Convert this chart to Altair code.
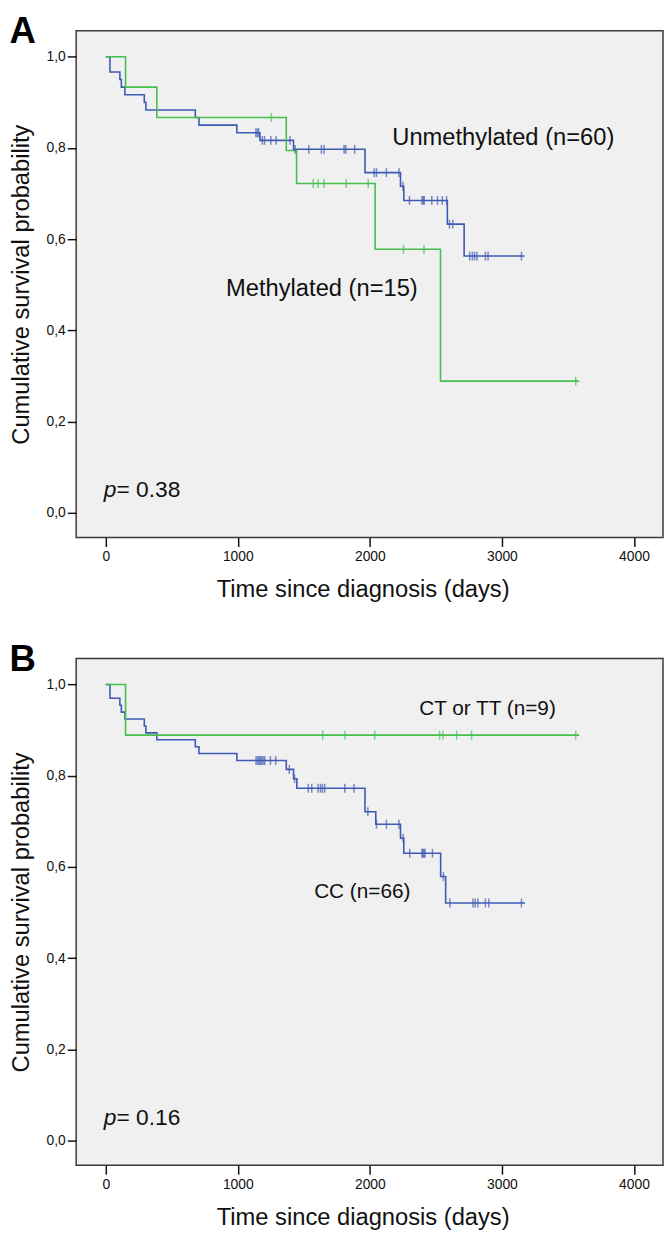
import altair as alt
import pandas as pd

FONT = "Liberation Sans, Arial, sans-serif"
BLUE = "#3E5AB4"
GREEN = "#45C04F"

# ---------------- Panel A: MGMT methylation ----------------
a_groups = ["Unmethylated (n=60)", "Methylated (n=15)"]
a_unmeth_event_t = [32, 107, 118, 145, 292, 304, 678, 706, 993, 1168, 1422, 1963, 2232, 2257, 2587, 2714]
a_unmeth_event_s = [0.9667, 0.95, 0.9333, 0.9167, 0.90, 0.8833, 0.8667, 0.85, 0.8333, 0.8167,
                    0.797, 0.746, 0.716, 0.685, 0.633, 0.563]
a_unmeth_censor = [1137, 1148, 1158, 1185, 1202, 1250, 1290, 1395, 1434, 1538, 1633, 1653, 1805,
                   1818, 1885, 2033, 2050, 2125, 2220, 2250, 2300, 2394, 2404, 2412, 2469, 2512,
                   2549, 2581, 2603, 2628, 2756, 2776, 2793, 2811, 2875, 2895, 3148]
a_unmeth_end = 3172

a_meth_event_t = [150, 387, 1367, 1445, 2040, 2535]
a_meth_event_s = [0.9333, 0.8667, 0.7944, 0.7222, 0.5778, 0.2889]
a_meth_censor = [1254, 1571, 1608, 1653, 1821, 1988, 2255, 2410, 3559]
a_meth_end = 3585

a_label_text = ["Unmethylated (n=60)", "Methylated (n=15)"]
a_label_t = [2170, 911]
a_label_s = [0.806, 0.475]
a_pvalue = "= 0.38"

# ---------------- Panel B: genotype ----------------
b_groups = ["CC (n=66)", "CT or TT (n=9)"]
b_cc_event_t = [32, 107, 118, 145, 292, 304, 387, 678, 706, 993, 1367, 1422, 1447, 1963, 2045,
                2232, 2257, 2536, 2574]
b_cc_event_s = [0.9697, 0.9545, 0.9394, 0.9242, 0.9091, 0.8939, 0.8788, 0.8636, 0.8485, 0.8333,
                0.8139, 0.7935, 0.7725, 0.7210, 0.6935, 0.6630, 0.6300, 0.5790, 0.5210]
b_cc_censor = [1138, 1150, 1160, 1170, 1180, 1192, 1204, 1247, 1287, 1390, 1430, 1534, 1560, 1608,
               1626, 1641, 1658, 1810, 1880, 1985, 2050, 2125, 2220, 2252, 2302, 2394, 2402, 2410,
               2418, 2474, 2557, 2606, 2781, 2798, 2818, 2875, 2901, 3148]
b_cc_end = 3175

b_ct_event_t = [150]
b_ct_event_s = [0.8889]
b_ct_censor = [1643, 1811, 2037, 2528, 2554, 2657, 2770, 3559]
b_ct_end = 3585

b_label_text = ["CT or TT (n=9)", "CC (n=66)"]
b_label_t = [2374, 1578]
b_label_s = [0.933, 0.532]
b_pvalue = "= 0.16"

X_TICKS = [0, 1000, 2000, 3000, 4000]
Y_TICKS = [0, 0.2, 0.4, 0.6, 0.8, 1.0]


def step_rows(group, event_t, event_s, end_t):
    xs = [0] + list(event_t) + [end_t]
    ys = [1.0] + list(event_s) + [event_s[-1]]
    return [{"group": group, "t": x, "s": y} for x, y in zip(xs, ys)]


def censor_rows(group, event_t, event_s, censor_t):
    rows = []
    for c in censor_t:
        level = 1.0
        for t, v in zip(event_t, event_s):
            if t <= c:
                level = v
        rows.append({"group": group, "t": c, "s": level})
    return rows


def panel(letter, curves, labels, label_size, pval):
    line_df = pd.DataFrame(sum([step_rows(g, et, es, end) for g, et, es, end, _ in curves], []))
    cens_df = pd.DataFrame(sum([censor_rows(g, et, es, ct) for g, et, es, _, ct in curves], []))
    groups = [c[0] for c in curves]
    colors = [BLUE, GREEN]

    x = alt.X("t:Q",
              scale=alt.Scale(domain=[-224, 4220], nice=False, zero=False),
              axis=alt.Axis(values=X_TICKS, format="d", title="Time since diagnosis (days)",
                            titleX=290, titleY=60, titleBaseline="alphabetic"))
    y = alt.Y("s:Q",
              scale=alt.Scale(domain=[-0.054, 1.057], nice=False, zero=False),
              axis=alt.Axis(values=Y_TICKS,
                            labelExpr="replace(format(datum.value, '.1f'), '.', ',')",
                            title="Cumulative survival probability",
                            titleAngle=270, titleX=-48.5, titleY=256.5,
                            titleBaseline="alphabetic", titleAlign="center"))
    color = alt.Color("group:N", scale=alt.Scale(domain=groups, range=colors), legend=None)

    lines = alt.Chart(line_df).mark_line(interpolate="step-after", strokeWidth=1.6).encode(
        x=x, y=y, color=color, detail="group:N")
    ticks = alt.Chart(cens_df).mark_tick(orient="vertical", size=9, thickness=1.5).encode(
        x="t:Q", y="s:Q", color=color)

    lab_df = pd.DataFrame({"txt": labels[0], "t": labels[1], "s": labels[2]})
    texts = alt.Chart(lab_df).mark_text(align="left", baseline="alphabetic", fontSize=label_size,
                                        font=FONT, color="#111").encode(
        x="t:Q", y="s:Q", text="txt:N")

    p_df = pd.DataFrame({"t": [-16], "s": [0.034]})
    p_it = alt.Chart(p_df).mark_text(align="left", baseline="alphabetic", fontSize=23, font=FONT,
                                     fontStyle="italic", color="#111", text="p").encode(
        x="t:Q", y="s:Q")
    p_rest = alt.Chart(p_df).mark_text(align="left", baseline="alphabetic", fontSize=23, font=FONT,
                                       color="#111", dx=13, text=pval).encode(x="t:Q", y="s:Q")

    let_df = pd.DataFrame({"k": [0]})
    letter_mark = alt.Chart(let_df).mark_text(align="left", baseline="top", fontSize=37,
                                              fontWeight="bold", font=FONT, color="#000",
                                              text=letter).encode(
        x=alt.value(-67.5), y=alt.value(-16.5))

    return alt.layer(lines, ticks, texts, p_it, p_rest, letter_mark).properties(width=594, height=513)


chart_a = panel("A",
                [(a_groups[0], a_unmeth_event_t, a_unmeth_event_s, a_unmeth_end, a_unmeth_censor),
                 (a_groups[1], a_meth_event_t, a_meth_event_s, a_meth_end, a_meth_censor)],
                (a_label_text, a_label_t, a_label_s), 24, a_pvalue)
chart_b = panel("B",
                [(b_groups[0], b_cc_event_t, b_cc_event_s, b_cc_end, b_cc_censor),
                 (b_groups[1], b_ct_event_t, b_ct_event_s, b_ct_end, b_ct_censor)],
                (b_label_text, b_label_t, b_label_s), 21, b_pvalue)

chart = alt.vconcat(chart_a, chart_b, spacing=122.4, bounds="flush").properties(
    padding={"top": -3.5, "left": 0, "right": 0, "bottom": 0}
).configure_view(
    fill="#F0F0F0", stroke="#3A3A3A", strokeWidth=1.5
).configure_axis(
    domain=False, grid=False, ticks=True, tickSize=9, tickWidth=1.5, tickColor="#111",
    labelFont=FONT, labelFontSize=14, labelColor="#111", labelPadding=3,
    titleFont=FONT, titleFontSize=24, titleFontWeight="normal", titleColor="#111"
).configure_axisY(labelPadding=2)

chart.save("out.html", embed_options={"renderer": "svg", "actions": False})
